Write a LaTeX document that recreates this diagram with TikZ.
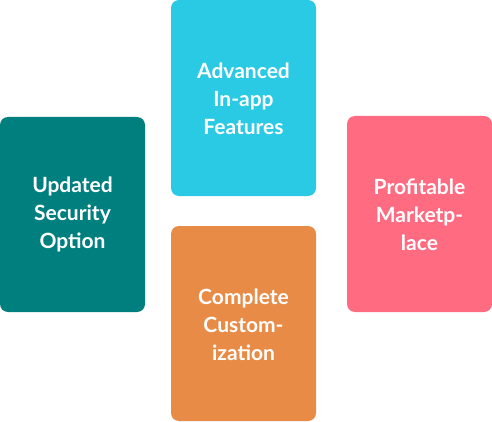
\documentclass[tikz,border=0pt]{standalone}
\usepackage{fontspec}
\setmainfont{Lato}
\definecolor{cteal}{HTML}{007F7F}
\definecolor{ccyan}{HTML}{2ACAE5}
\definecolor{cpink}{HTML}{FF6B81}
\definecolor{corange}{HTML}{E88B46}
\begin{document}
\begin{tikzpicture}[x=1pt,y=-1pt,
  card/.style={rounded corners=8pt, draw=none},
  lbl/.style={text=white, align=center, font=\fontsize{21}{28}\selectfont\bfseries}]
\useasboundingbox (0,0) rectangle (492,422);
\fill[card, cteal] (0,117) rectangle (145,312);
\fill[card, ccyan] (171,0) rectangle (316,196);
\fill[card, cpink] (347,116) rectangle (492,312);
\fill[card, corange] (171,226) rectangle (316,421);
\node[lbl] (sec) at (72.5,214.5) {Updated\\Security\\Option};
\node[lbl] (adv) at (243.5,99) {Advanced\\In-app\\Features};
\node[lbl] (pro) at (419.5,214.5) {Profitable\\Marketp-\\lace};
\node[lbl] (cus) at (243.5,325) {Complete\\Custom-\\ization};
\end{tikzpicture}
\end{document}
